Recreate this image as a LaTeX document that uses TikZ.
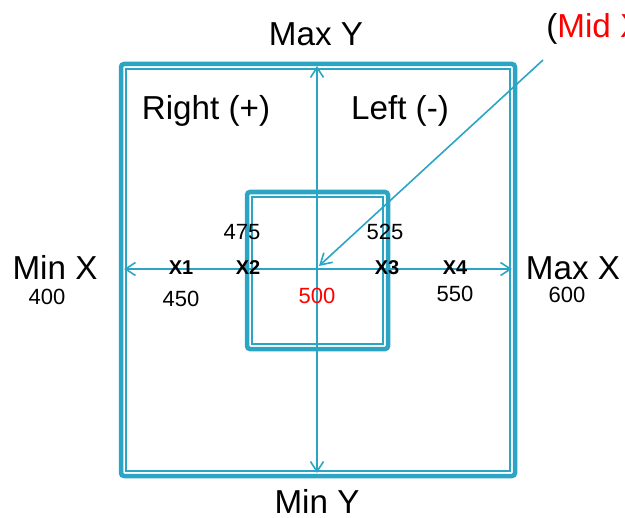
\documentclass[tikz,border=0pt]{standalone}
\usepackage{fontspec}
\setmainfont{Liberation Sans}
\usetikzlibrary{arrows.meta}
\definecolor{axteal}{RGB}{44,165,196}
\definecolor{axred}{RGB}{255,0,0}

\begin{document}
\begin{tikzpicture}[
  x=0.5pt,y=-0.5pt,
  bigtxt/.style={font=\fontsize{16.6}{19}\selectfont,anchor=base},
  numtxt/.style={font=\fontsize{11}{13}\selectfont,anchor=base},
  xtxt/.style={font=\fontsize{10}{12}\selectfont\bfseries,anchor=base},
  frameout/.style={draw=axteal,line width=2.25pt,rounded corners=1.5pt},
  framein/.style={draw=axteal,line width=0.75pt},
  arr/.style={<->,>={Straight Barb[length=5pt,width=6.5pt]},axteal,line width=0.8pt},
  pointer/.style={->,>={Straight Barb[length=5.5pt,width=6.5pt]},axteal,line width=0.8pt},
]
  \useasboundingbox (0,0) rectangle (625,518);
  \clip (0,0) rectangle (625,518);

  % Outer range
  \draw[frameout] (121,64) rectangle (515,476);
  \draw[framein] (126,69) rectangle (510,471);

  % Inner range
  \draw[frameout] (247,192) rectangle (388,349);
  \draw[framein] (252,197) rectangle (383,344);

  % Axes
  \coordinate (ytop) at (317,66);
  \coordinate (ybot) at (317,473);
  \coordinate (xleft) at (124,269);
  \coordinate (xright) at (512,269);
  \draw[arr] (ytop) -- (ybot);
  \draw[arr] (xleft) -- (xright);

  % Mid X pointer
  \node[bigtxt,anchor=base west,inner sep=0pt] (midx) at (546,38) {(\textcolor{axred}{Mid X}};
  \coordinate (midfrom) at (543,60);
  \coordinate (origin) at (319,266);
  \draw[pointer] (midfrom) -- (origin);

  % Range labels
  \node[bigtxt] (maxy) at (316,46) {Max Y};
  \node[bigtxt] (miny) at (317,513) {Min Y};
  \node[bigtxt] (minx) at (55,279) {Min X};
  \node[bigtxt] (maxx) at (573,279) {Max X};
  \node[numtxt] (minxval) at (47,304) {400};
  \node[numtxt] (maxxval) at (567,302) {600};

  % Direction labels
  \node[bigtxt] (right) at (206,120) {Right (+)};
  \node[bigtxt] (left) at (400,120) {Left (-)};

  % Points on the X axis
  \node[xtxt] (xa) at (181,274) {X1};
  \node[xtxt] (xb) at (248,274) {X2};
  \node[xtxt] (xc) at (387,274) {X3};
  \node[xtxt] (xd) at (455,274) {X4};
  \node[numtxt] (xaval) at (181,306) {450};
  \node[numtxt] (xbval) at (242,239) {475};
  \node[numtxt,text=axred] (midval) at (317,303) {500};
  \node[numtxt] (xcval) at (385,239) {525};
  \node[numtxt] (xdval) at (455,301) {550};
\end{tikzpicture}
\end{document}
